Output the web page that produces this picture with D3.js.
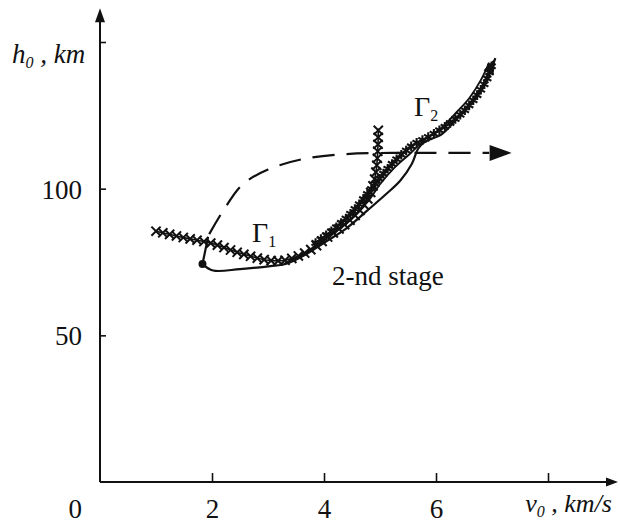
<!DOCTYPE html>
<html>
<head>
<meta charset="utf-8">
<script src="https://cdn.jsdelivr.net/npm/d3@7"></script>
<style>
  body { margin: 0; background: #fff; }
  svg text { font-family: "Liberation Serif", "Times New Roman", Times, Tinos, "Noto Serif", "DejaVu Serif", FreeSerif, serif; fill: #111; }
</style>
</head>
<body>
<div id="chart"></div>
<script>
// boundary curve G1 (x markers)
const gamma1V = [1.0, 1.5, 2.0, 2.5, 3.0, 3.3, 3.7, 4.1, 4.45, 4.7, 4.85, 4.93, 4.96, 4.97];
const gamma1H = [85.5, 83.3, 81.3, 78.0, 75.6, 75.6, 78.5, 84.0, 89.0, 94.0, 99.5, 106, 113, 120.5];

// boundary curve G2 (star markers)
const gamma2V = [3.85, 4.2, 4.55, 4.85, 5.1, 5.35, 5.6, 5.85, 6.15, 6.45, 6.7, 6.9, 7.02];
const gamma2H = [81.5, 86.5, 93.0, 100, 106, 111, 115, 117.5, 121, 125.5, 131, 137, 143.5];

// trajectory, lower branch (ends with arrow)
const trajAV = [1.83, 2.02, 2.5, 3.04, 3.34, 3.7, 3.98, 4.4, 4.77, 5.1, 5.36, 5.57, 5.68, 5.8, 6.1, 6.38, 6.6, 6.8, 6.98, 7.06];
const trajAH = [74.3, 72.1, 72.6, 73.6, 74.5, 77.9, 81.3, 86.5, 92.5, 98.0, 102.7, 108.5, 113.6, 116, 118.5, 124, 128.5, 134, 140.5, 144.5];

// trajectory, upper branch
const trajBV = [3.3, 3.7, 4.1, 4.5, 4.8, 5.0, 5.25, 5.54, 5.8, 6.1, 6.38, 6.6, 6.8, 6.95];
const trajBH = [74.5, 78.5, 84.0, 90.0, 96.0, 101.5, 107, 112, 116.8, 120.8, 126.3, 131, 137, 143];

// short link from start point up to G1
const stemV = [1.83, 1.93];
const stemH = [74.3, 83.5];

// dashed trajectory
const dashV = [1.95, 2.2, 2.55, 3.0, 3.6, 4.4, 5.2, 6.0, 6.95];
const dashH = [84.5, 92.5, 101.5, 106.5, 110, 111.8, 112.2, 112.2, 112.2];
const dashArrowTipV = 7.35;

const xTicks = [2, 4, 6, 8];
const xTickLabels = ["2", "4", "6", ""];
const yTicks = [50, 100, 150];
const yTickLabels = ["50", "100", ""];
const xAxisEnd = 9.25, yAxisEnd = 161.5;

const width = 620, height = 524;
const x = d3.scaleLinear().domain([0, 8]).range([100, 548]);
const y = d3.scaleLinear().domain([0, 150]).range([482, 42]);

const svg = d3.select("#chart").append("svg")
  .attr("width", width).attr("height", height);

const ink = "#111";
const pts = (vs, hs) => vs.map((v, i) => [v, hs[i]]);
const line = d3.line().x(d => x(d[0])).y(d => y(d[1])).curve(d3.curveCatmullRom.alpha(0.5));

function arrowHead(tip, from, len, half) {
  const dx = tip[0] - from[0], dy = tip[1] - from[1];
  const n = Math.hypot(dx, dy), ux = dx / n, uy = dy / n;
  const bx = tip[0] - ux * len, by = tip[1] - uy * len;
  svg.append("path")
    .attr("d", `M${tip[0]},${tip[1]}L${bx - uy * half},${by + ux * half}L${bx + uy * half},${by - ux * half}Z`)
    .attr("fill", ink);
}

// axes
svg.append("line").attr("x1", x(0)).attr("y1", y(0)).attr("x2", x(xAxisEnd) - 6).attr("y2", y(0))
  .attr("stroke", ink).attr("stroke-width", 2);
arrowHead([x(xAxisEnd), y(0)], [x(0), y(0)], 12, 4.5);
svg.append("line").attr("x1", x(0)).attr("y1", y(0)).attr("x2", x(0)).attr("y2", y(yAxisEnd) + 6)
  .attr("stroke", ink).attr("stroke-width", 2);
arrowHead([x(0), y(yAxisEnd)], [x(0), y(0)], 14, 5);

const gx = svg.append("g").attr("transform", `translate(0,${y(0)})`)
  .call(d3.axisBottom(x).tickValues(xTicks).tickSize(-9).tickFormat((d, i) => xTickLabels[i]));
gx.attr("font-size", 27);
gx.select(".domain").remove();
gx.selectAll(".tick line").attr("stroke", ink).attr("stroke-width", 1.6);
gx.selectAll(".tick text").attr("y", 36).attr("dy", 0);

const gy = svg.append("g").attr("transform", `translate(${x(0)},0)`)
  .call(d3.axisLeft(y).tickValues(yTicks).tickSize(-6).tickFormat((d, i) => yTickLabels[i]));
gy.attr("font-size", 27);
gy.select(".domain").remove();
gy.selectAll(".tick line").attr("stroke", ink).attr("stroke-width", 1.6);
gy.selectAll(".tick text").attr("x", -18).attr("dy", "0.35em");

svg.append("text").attr("x", x(0) - 18).attr("y", y(0) + 36)
  .attr("text-anchor", "end").attr("font-size", 27).text("0");

// axis titles
const yt = svg.append("text").attr("x", 12).attr("y", 63).attr("font-size", 27).attr("font-style", "italic");
yt.append("tspan").text("h");
yt.append("tspan").attr("font-size", 16).attr("dy", 5).text("0");
yt.append("tspan").attr("dy", -5).text(" , km");

const xt = svg.append("text").attr("x", 612).attr("y", 512).attr("text-anchor", "end")
  .attr("font-size", 26).attr("font-style", "italic");
xt.append("tspan").text("v");
xt.append("tspan").attr("font-size", 16).attr("dy", 5).text("0");
xt.append("tspan").attr("dy", -5).text(" , km/s");

// dashed trajectory
const dashPts = pts(dashV, dashH);
svg.append("path").attr("d", line(dashPts)).attr("fill", "none")
  .attr("stroke", ink).attr("stroke-width", 2.2).attr("stroke-dasharray", "22,12");
const dEnd = dashPts[dashPts.length - 1];
arrowHead([x(dashArrowTipV), y(dEnd[1])], [x(dEnd[0]), y(dEnd[1])], 22, 8);

// markers along a curve
function markAlong(data, step, drawFn) {
  const p = svg.append("path").attr("d", line(data)).attr("fill", "none")
    .attr("stroke", ink).attr("stroke-width", 1.6);
  const node = p.node(), L = node.getTotalLength();
  const g = svg.append("g").attr("stroke", ink).attr("fill", "none");
  for (let s = 0; s <= L; s += step) {
    const q = node.getPointAtLength(s);
    drawFn(g, q.x, q.y);
  }
}

markAlong(pts(gamma1V, gamma1H), 7, (g, cx, cy) => {
  const r = 4.6;
  g.append("path").attr("stroke-width", 2)
    .attr("d", `M${cx - r},${cy - r}L${cx + r},${cy + r}M${cx + r},${cy - r}L${cx - r},${cy + r}`);
});

markAlong(pts(gamma2V, gamma2H), 6.5, (g, cx, cy) => {
  const r = 4.8;
  let d = "";
  for (let k = 0; k < 3; k++) {
    const a = Math.PI / 2 + k * Math.PI / 3;
    d += `M${cx - r * Math.cos(a)},${cy - r * Math.sin(a)}L${cx + r * Math.cos(a)},${cy + r * Math.sin(a)}`;
  }
  g.append("path").attr("stroke-width", 2.1).attr("d", d);
});

// solid trajectories
const aPts = pts(trajAV, trajAH);
svg.append("path").attr("d", line(aPts)).attr("fill", "none").attr("stroke", ink).attr("stroke-width", 2.2);
svg.append("path").attr("d", line(pts(trajBV, trajBH))).attr("fill", "none").attr("stroke", ink).attr("stroke-width", 1.9);
svg.append("path").attr("d", line(pts(stemV, stemH))).attr("fill", "none").attr("stroke", ink).attr("stroke-width", 2.2);
const aN = aPts.length;
arrowHead([x(aPts[aN - 1][0]), y(aPts[aN - 1][1])], [x(aPts[aN - 3][0]), y(aPts[aN - 3][1])], 16, 5.5);

svg.append("circle").attr("cx", x(trajAV[0])).attr("cy", y(trajAH[0])).attr("r", 4).attr("fill", ink);

// curve labels
const g1 = svg.append("text").attr("x", 252).attr("y", 242).attr("font-size", 28);
g1.append("tspan").text("Γ");
g1.append("tspan").attr("font-size", 16).attr("dy", 5).text("1");
const g2 = svg.append("text").attr("x", 414).attr("y", 116).attr("font-size", 28);
g2.append("tspan").text("Γ");
g2.append("tspan").attr("font-size", 16).attr("dy", 5).text("2");

svg.append("text").attr("x", 332).attr("y", 285).attr("font-size", 27).text("2-nd stage");
</script>
</body>
</html>
